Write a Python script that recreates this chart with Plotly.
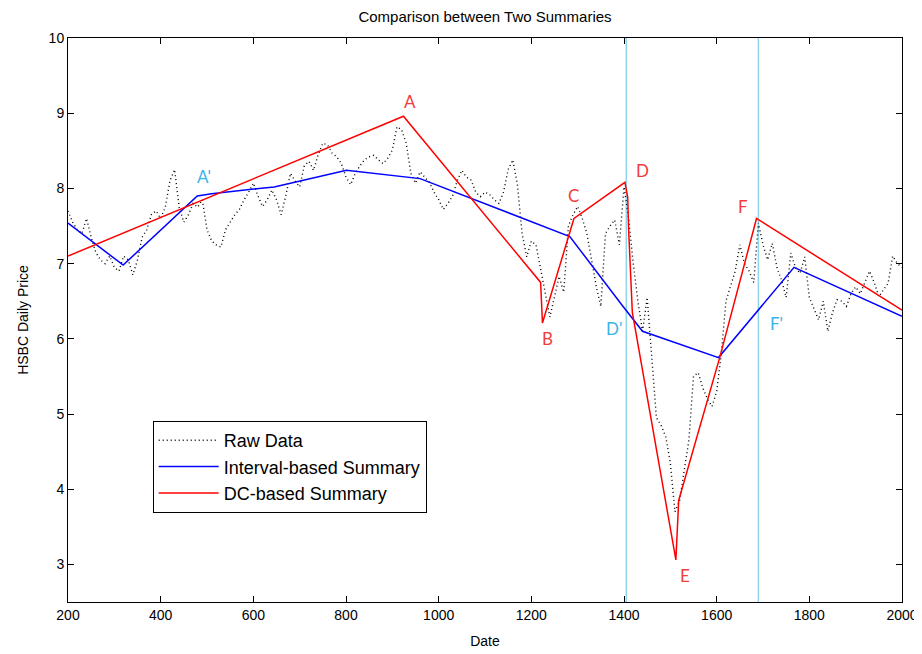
import plotly.graph_objects as go

# ---------------- data ----------------
raw_x = list(range(200, 2001, 10))
raw_y = [7.70, 7.55, 7.45, 7.40, 7.60, 7.35, 7.15, 7.05, 7.00, 7.10,
         6.95, 6.90, 7.10, 7.05, 6.85, 7.05, 7.35, 7.45, 7.65, 7.70,
         7.60, 7.75, 8.10, 8.25, 7.75, 7.55, 7.65, 7.80, 7.75, 7.85,
         7.45, 7.30, 7.25, 7.22, 7.45, 7.55, 7.65, 7.72, 7.85, 7.95,
         8.07, 7.90, 7.76, 7.85, 7.98, 7.85, 7.65, 7.90, 8.20, 8.10,
         8.02, 8.30, 8.36, 8.24, 8.45, 8.60, 8.58, 8.47, 8.42, 8.33,
         8.15, 8.05, 8.20, 8.30, 8.38, 8.42, 8.44, 8.38, 8.33, 8.40,
         8.51, 8.82, 8.78, 8.60, 8.20, 8.07, 8.22, 8.15, 8.08, 7.95,
         7.85, 7.72, 7.80, 7.90, 8.10, 8.24, 8.15, 8.11, 7.95, 7.89,
         7.95, 7.92, 7.85, 7.80, 7.95, 8.25, 8.38, 8.05, 7.40, 7.09,
         7.30, 7.25, 6.91, 6.61, 6.29, 6.55, 6.83, 6.62, 7.50, 7.65,
         7.76, 7.60, 7.40, 7.05, 6.70, 6.43, 7.40, 7.50, 7.58, 7.25,
         8.02, 7.60, 7.00, 6.50, 6.10, 6.55, 5.81, 4.95, 4.85, 4.70,
         4.35, 3.70, 3.85, 4.25, 4.65, 5.50, 5.55, 5.35, 5.20, 5.10,
         5.30, 5.80, 6.50, 6.70, 6.90, 7.25, 7.00, 6.90, 6.75, 7.54,
         7.25, 7.05, 7.27, 6.95, 6.78, 6.55, 7.14, 6.95, 6.87, 7.09,
         6.55, 6.40, 6.25, 6.50, 6.10, 6.35, 6.52, 6.50, 6.43, 6.60,
         6.69, 6.60, 6.75, 6.90, 6.75, 6.56, 6.65, 6.74, 7.10, 7.00,
         6.95]

interval_x = [200, 319, 479, 510, 645, 801, 960, 1283, 1398, 1440, 1604, 1767, 2000]
interval_y = [7.54, 6.98, 7.90, 7.93, 8.02, 8.24, 8.13, 7.36, 6.43, 6.10, 5.75, 6.95, 6.30]

dc_x = [200, 924, 1220, 1224, 1292, 1402, 1408, 1410, 1418, 1512, 1518, 1607, 1686, 2000]
dc_y = [7.10, 8.96, 6.75, 6.21, 7.60, 8.08, 7.88, 7.45, 6.35, 3.06, 3.85, 5.76, 7.60, 6.38]

vline_x = [1405, 1690]

red_labels = ["A", "B", "C", "D", "E", "F"]
red_label_x = [938, 1235, 1291, 1440, 1532, 1657]
red_label_y = [9.15, 6.01, 7.90, 8.24, 2.85, 7.76]

cyan_labels = ["A'", "D'", "F'"]
cyan_label_x = [493, 1378, 1729]
cyan_label_y = [8.16, 6.14, 6.21]

x_ticks = list(range(200, 2001, 200))
y_ticks = list(range(3, 11))

# ---------------- figure ----------------
fig = go.Figure()

fig.add_trace(go.Scatter(x=raw_x, y=raw_y, mode="lines", name="Raw Data",
                         legendgroup="g1",
                         line=dict(color="black", width=1.4, dash="1px,3px")))
fig.add_trace(go.Scatter(x=interval_x, y=interval_y, mode="lines",
                         name="Interval-based Summary", legendgroup="g2",
                         line=dict(color="#0000ff", width=1.5)))
fig.add_trace(go.Scatter(x=dc_x, y=dc_y, mode="lines",
                         name="DC-based Summary", legendgroup="g3",
                         line=dict(color="#ff0000", width=1.5)))

for vx in vline_x:
    fig.add_vline(x=vx, line=dict(color="#8fd6ea", width=1.5), layer="below")

label_font = "Lato, Open Sans, sans-serif"
for t, x, y in zip(red_labels, red_label_x, red_label_y):
    fig.add_annotation(x=x, y=y, text=t, showarrow=False,
                       font=dict(family=label_font, size=17, color="#f23c3c"))
for t, x, y in zip(cyan_labels, cyan_label_x, cyan_label_y):
    fig.add_annotation(x=x, y=y, text=t, showarrow=False,
                       font=dict(family=label_font, size=17, color="#3cb4e6"))

axis_font = dict(family="Liberation Sans, Arial, sans-serif", size=14, color="black")

# page body has an 8px margin: figure is offset by it
W, H = 914, 646
fig.update_layout(
    width=W, height=H,
    margin=dict(l=60, r=20, t=30, b=52, autoexpand=False),
    paper_bgcolor="white", plot_bgcolor="white",
    font=axis_font,
    title=dict(text="Comparison between Two Summaries", x=0.5, xref="paper",
               y=1 - 9 / H, yref="container", yanchor="middle", xanchor="center",
               font=dict(family="Liberation Sans, Arial, sans-serif", size=15, color="black")),
    xaxis=dict(range=[200, 2000], tickvals=x_ticks, ticks="inside", ticklen=6,
               tickcolor="black", showline=True, linecolor="black", linewidth=1,
               mirror="ticks", showgrid=False, zeroline=False, automargin=False,
               ticklabeloverflow="allow",
               title=dict(text="Date", standoff=14, font=axis_font),
               tickfont=axis_font),
    yaxis=dict(range=[2.5, 10], tickvals=y_ticks, ticks="inside", ticklen=6,
               tickcolor="black", showline=True, linecolor="black", linewidth=1,
               mirror="ticks", showgrid=False, zeroline=False, automargin=False,
               title=dict(text="HSBC Daily Price", standoff=16, font=axis_font),
               tickfont=axis_font),
    legend=dict(x=(152.7 - 68) / 834, y=(602 - 421) / 564, xanchor="left", yanchor="top",
                bgcolor="white", bordercolor="black", borderwidth=1,
                font=dict(family="Liberation Sans, Arial, sans-serif", size=18, color="black"),
                tracegroupgap=0, itemwidth=60),
    showlegend=True,
)

fig.write_html("out.html")
